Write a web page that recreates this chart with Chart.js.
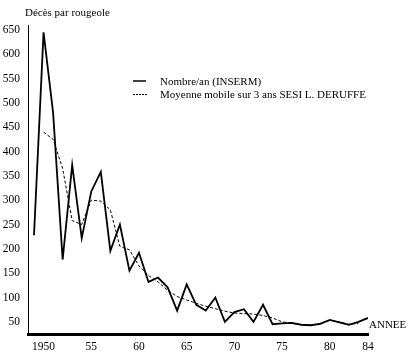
<!DOCTYPE html>
<html>
<head>
<meta charset="utf-8">
<script src="https://cdn.jsdelivr.net/npm/chart.js@4"></script>
<style>
  html, body { margin: 0; padding: 0; background: #fff; }
  canvas { display: block; }
</style>
</head>
<body>
<canvas id="c" width="407" height="354"></canvas>
<script>
// ---- data ----
const years = [1949,1950,1951,1952,1953,1954,1955,1956,1957,1958,1959,1960,1961,1962,1963,1964,1965,1966,1967,1968,1969,1970,1971,1972,1973,1974,1975,1976,1977,1978,1979,1980,1981,1982,1983,1984];
const deaths = [228,645,480,178,372,222,318,358,196,250,155,192,132,141,121,73,127,85,73,100,50,70,76,50,85,45,47,48,44,43,46,54,49,44,50,58];

const avgYears = [1950,1951,1952,1953,1954,1955,1956,1957,1958,1959,1960,1961,1962,1963,1964,1965,1966,1967,1968,1969,1970,1971,1972,1973,1974,1975,1976,1977,1978,1979,1980,1981,1982,1983];
const movingAvg = [440,425,365,258,250,300,298,280,205,198,165,145,132,115,102,95,88,82,77,72,68,67,66,63,58,50,47,44,43,47,53,50,45,47];

const xTickValues = [1950,1955,1960,1965,1970,1975,1980,1984];
const xTickLabels = ['1950','55','60','65','70','75','80','84'];
const yTickValues = [50,100,150,200,250,300,350,400,450,500,550,600,650];

const yTitle = 'Décès par rougeole';
const xTitle = 'ANNEE';
const seriesNames = ['Nombre/an (INSERM)', 'Moyenne mobile sur 3 ans SESI L. DERUFFE'];

// ---- chart ----
const FONT = "'Liberation Serif', 'Times New Roman', serif";

const decorations = {
  id: 'decorations',
  beforeDraw(chart) {
    const ctx = chart.ctx;
    ctx.save();
    ctx.fillStyle = '#fff';
    ctx.fillRect(0, 0, chart.width, chart.height);
    ctx.restore();
  },
  afterDraw(chart) {
    const ctx = chart.ctx;
    const area = chart.chartArea;
    ctx.save();
    ctx.fillStyle = '#000';
    ctx.textBaseline = 'middle';
    ctx.textAlign = 'left';
    ctx.font = '11px ' + FONT;
    // y-axis title
    ctx.fillText(yTitle, 25, 13);
    // x-axis title
    ctx.fillText(xTitle, area.right + 1, 325);
    // legend
    ctx.strokeStyle = '#000';
    ctx.lineWidth = 1.5;
    ctx.beginPath();
    ctx.moveTo(133, 81);
    ctx.lineTo(146, 81);
    ctx.stroke();
    ctx.lineWidth = 1;
    ctx.setLineDash([2, 1]);
    ctx.beginPath();
    ctx.moveTo(133, 94.5);
    ctx.lineTo(148, 94.5);
    ctx.stroke();
    ctx.setLineDash([]);
    ctx.fillText(seriesNames[0], 160, 82);
    ctx.fillText(seriesNames[1], 160, 95);
    ctx.restore();
  }
};

new Chart(document.getElementById('c'), {
  type: 'line',
  data: {
    datasets: [
      {
        label: seriesNames[0],
        data: years.map((y, i) => ({ x: y, y: deaths[i] })),
        borderColor: '#000',
        borderWidth: 1.8,
        pointRadius: 0,
        tension: 0,
        fill: false
      },
      {
        label: seriesNames[1],
        data: avgYears.map((y, i) => ({ x: y, y: movingAvg[i] })),
        borderColor: '#000',
        borderWidth: 1,
        borderDash: [3, 2],
        pointRadius: 0,
        tension: 0,
        fill: false
      }
    ]
  },
  plugins: [decorations],
  options: {
    responsive: false,
    animation: false,
    devicePixelRatio: 1,
    layout: { padding: { left: 0, right: 39, top: 25, bottom: 0 } },
    plugins: {
      legend: { display: false },
      title: { display: false },
      tooltip: { enabled: false }
    },
    scales: {
      x: {
        type: 'linear',
        min: 1948.37,
        max: 1984,
        afterBuildTicks(scale) { scale.ticks = xTickValues.map(v => ({ value: v })); },
        afterFit(scale) { scale.height = 20; },
        grid: { display: false, drawTicks: false },
        border: { display: true, color: '#000', width: 3 },
        ticks: {
          color: '#000',
          padding: 6,
          maxRotation: 0,
          autoSkip: false,
          font: { family: FONT, size: 11.5 },
          callback(v) { const i = xTickValues.indexOf(v); return i >= 0 ? xTickLabels[i] : ''; }
        }
      },
      y: {
        type: 'linear',
        min: 25,
        max: 660,
        afterBuildTicks(scale) { scale.ticks = yTickValues.map(v => ({ value: v })); },
        afterFit(scale) { scale.width = 28; },
        grid: { display: false, drawTicks: false },
        border: { display: true, color: '#000', width: 1 },
        ticks: {
          color: '#000',
          padding: 8,
          autoSkip: false,
          font: { family: FONT, size: 11.5 }
        }
      }
    }
  }
});
</script>
</body>
</html>
